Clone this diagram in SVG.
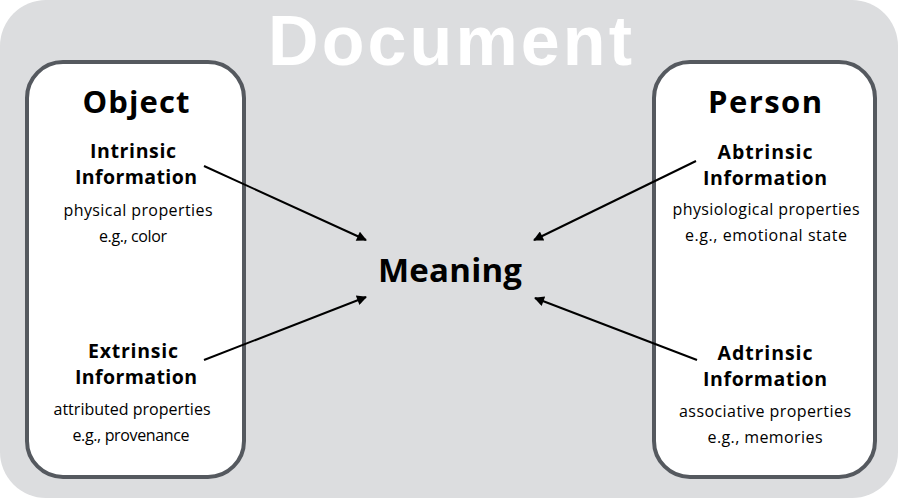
<svg xmlns="http://www.w3.org/2000/svg" width="900" height="502" viewBox="0 0 900 502">
<style>
.panel{fill:#ffffff;stroke:#55595f;stroke-width:4}
.t{font-family:"Open Sans","Liberation Sans",sans-serif;text-anchor:middle;fill:#000}
.title{font-family:"Liberation Sans",Arial,sans-serif;font-size:70px;font-weight:bold;fill:#ffffff}
.h{font-size:31px;font-weight:bold}
.m{font-size:33px;font-weight:bold}
.b{font-size:19.5px;font-weight:bold}
.s{font-size:16px}
.c{stroke:#000;stroke-width:2;fill:none;marker-end:url(#ah)}
</style>
<defs>
<marker id="ah" viewBox="0 0 10 10" refX="9" refY="5" markerWidth="6" markerHeight="5" orient="auto" markerUnits="strokeWidth">
<path d="M0,0 L10,5 L0,10 z" fill="#000"/>
</marker>
</defs>
<rect id="doc-bg" x="0" y="0" width="898" height="498" rx="46" fill="#dcdddf"/>
<g id="document">
<text class="t title" x="450" y="65" textLength="364" lengthAdjust="spacing">Document</text>
</g>
<g id="object">
<rect class="panel" x="27" y="62" width="217" height="415" rx="36"/>
<text class="t h" x="136" y="113" textLength="107" lengthAdjust="spacing">Object</text>
</g>
<g id="intrinsic">
<text class="t b" x="133" y="158" textLength="86" lengthAdjust="spacing">Intrinsic</text>
<text class="t b" x="136" y="184" textLength="122" lengthAdjust="spacing">Information</text>
<text class="t s" x="138" y="216" textLength="149" lengthAdjust="spacing">physical properties</text>
<text class="t s" x="133" y="242" textLength="68" lengthAdjust="spacing">e.g., color</text>
</g>
<g id="extrinsic">
<text class="t b" x="133" y="358" textLength="90" lengthAdjust="spacing">Extrinsic</text>
<text class="t b" x="136" y="384" textLength="122" lengthAdjust="spacing">Information</text>
<text class="t s" x="132" y="415" textLength="157" lengthAdjust="spacing">attributed properties</text>
<text class="t s" x="131" y="441" textLength="117" lengthAdjust="spacing">e.g., provenance</text>
</g>
<g id="person">
<rect class="panel" x="654" y="62" width="221" height="415" rx="36"/>
<text class="t h" x="765" y="113" textLength="114" lengthAdjust="spacing">Person</text>
</g>
<g id="abtrinsic">
<text class="t b" x="765" y="159" textLength="95" lengthAdjust="spacing">Abtrinsic</text>
<text class="t b" x="765" y="185" textLength="124" lengthAdjust="spacing">Information</text>
<text class="t s" x="766" y="215" textLength="187" lengthAdjust="spacing">physiological properties</text>
<text class="t s" x="766" y="241" textLength="162" lengthAdjust="spacing">e.g., emotional state</text>
</g>
<g id="adtrinsic">
<text class="t b" x="765" y="360" textLength="95" lengthAdjust="spacing">Adtrinsic</text>
<text class="t b" x="765" y="386" textLength="124" lengthAdjust="spacing">Information</text>
<text class="t s" x="765" y="417" textLength="172" lengthAdjust="spacing">associative properties</text>
<text class="t s" x="765" y="443" textLength="115" lengthAdjust="spacing">e.g., memories</text>
</g>
<g id="meaning">
<text class="t m" x="450" y="282" textLength="144" lengthAdjust="spacing">Meaning</text>
</g>
<g id="connectors">
<line class="c" x1="204" y1="166" x2="366" y2="240"/>
<line class="c" x1="204" y1="360" x2="366" y2="297"/>
<line class="c" x1="696" y1="161" x2="534" y2="240"/>
<line class="c" x1="697" y1="360" x2="535" y2="298"/>
</g>
</svg>
